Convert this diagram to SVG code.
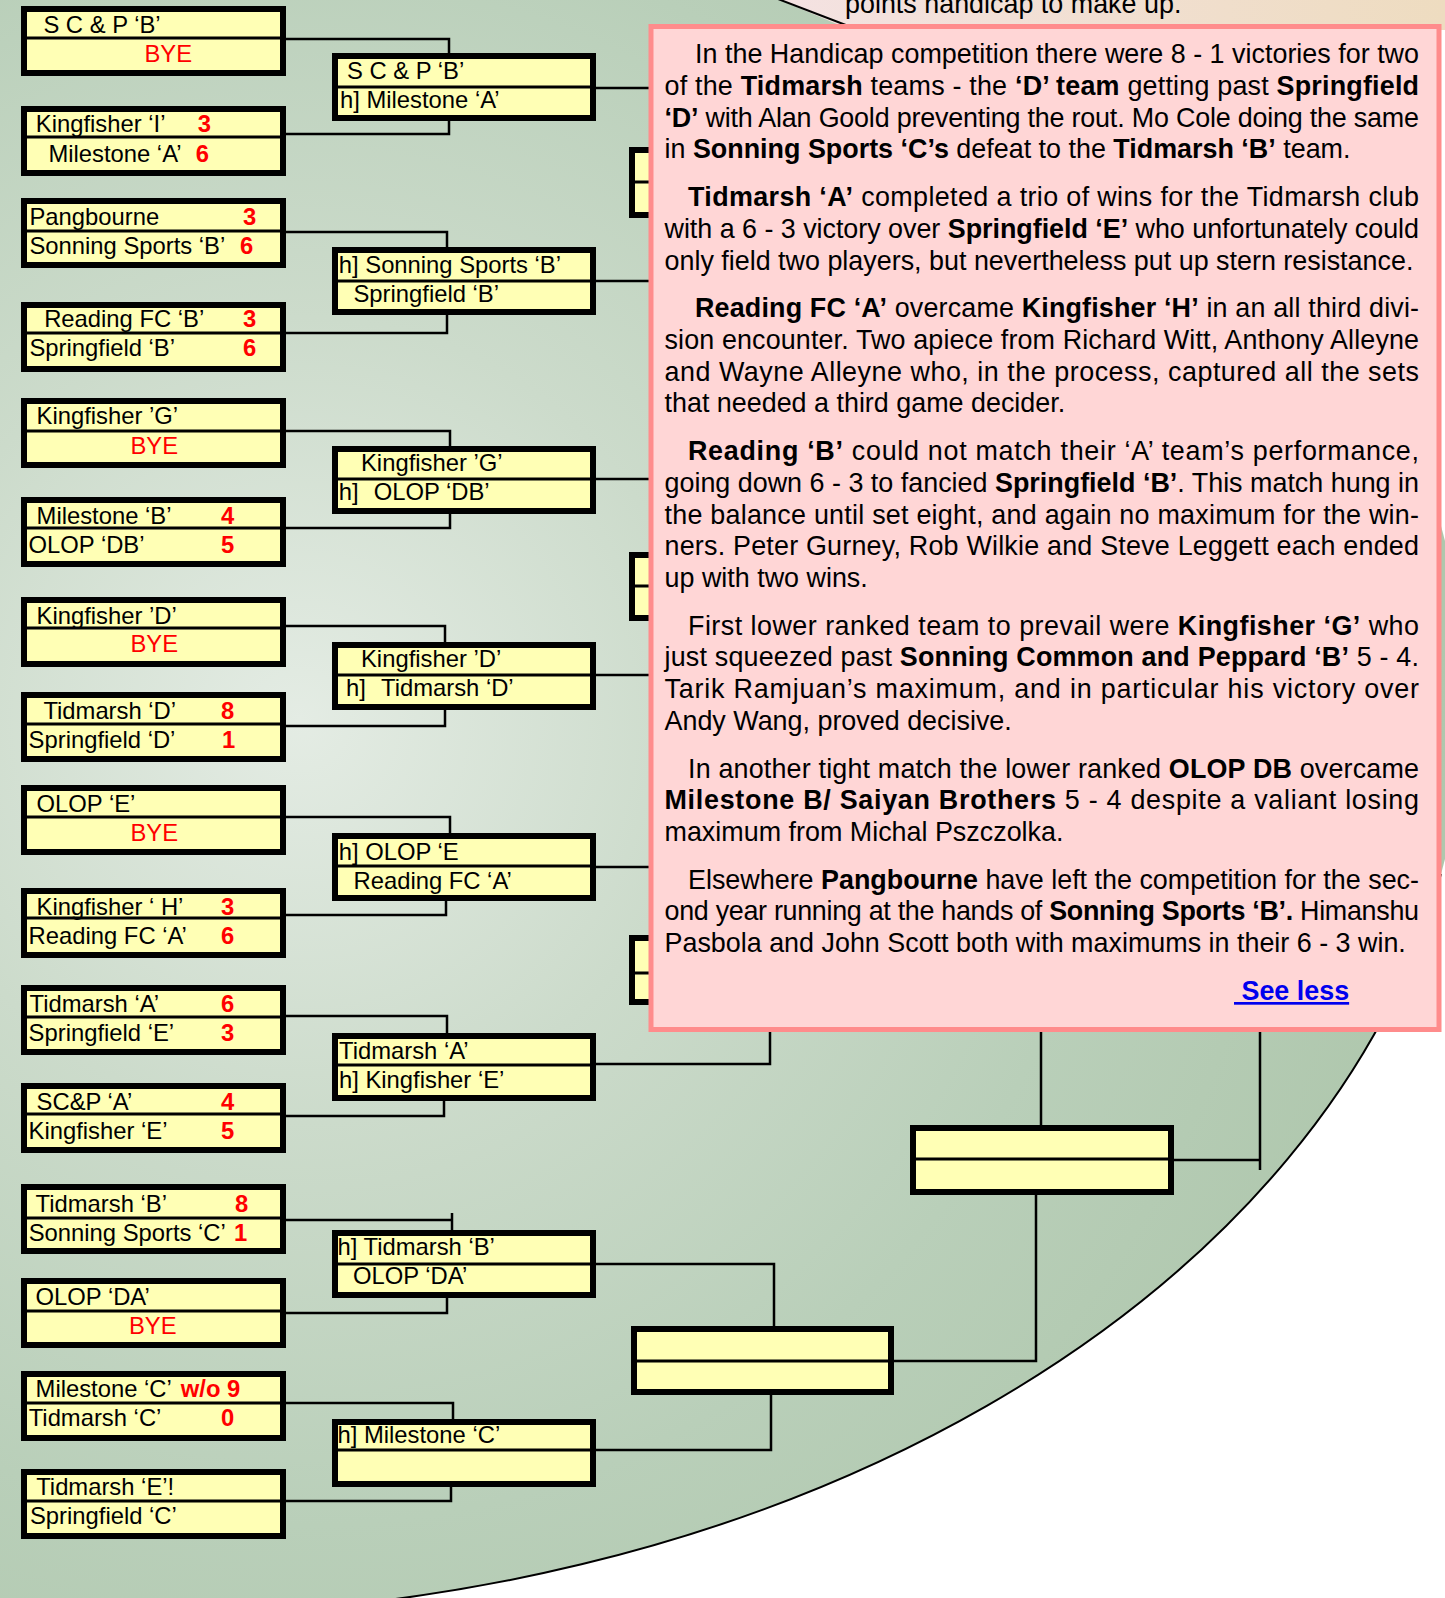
<svg xmlns="http://www.w3.org/2000/svg" width="1445" height="1598" viewBox="0 0 1445 1598">
<defs>
<radialGradient id="bg" gradientUnits="userSpaceOnUse" cx="300" cy="720" r="1150">
<stop offset="0" stop-color="#E4ECE4"/>
<stop offset="0.35" stop-color="#CCDBCB"/>
<stop offset="0.7" stop-color="#B9CFB9"/>
<stop offset="1" stop-color="#AFC7AD"/>
</radialGradient>
<linearGradient id="co" gradientUnits="userSpaceOnUse" x1="780" y1="0" x2="1445" y2="0">
<stop offset="0" stop-color="#F4E2E2"/>
<stop offset="1" stop-color="#EEDCC0"/>
</linearGradient>
<style>
.box{fill:#FFFFB5;stroke:#000;stroke-width:6}
.div{stroke:#000;stroke-width:3}
.nm{font-family:"Liberation Sans",Arial,sans-serif;font-size:23.8px;fill:#000}
.bye{font-family:"Liberation Sans",Arial,sans-serif;font-size:23.8px;fill:#FF0000}
.sc{font-family:"Liberation Sans",Arial,sans-serif;font-size:23.8px;font-weight:bold;fill:#FF0000}
.con{fill:none;stroke:#000;stroke-width:2.5}
.t{font-family:"Liberation Sans",Arial,sans-serif;font-size:26.9px;fill:#000}
.b{font-weight:bold}
</style>
</defs>
<rect width="1445" height="1598" fill="#FFFFFF"/>
<ellipse cx="150" cy="700" rx="1315" ry="915" fill="url(#bg)"/>
<path d="M1441,874 A1315,915 0 0 1 150,1615" fill="none" stroke="#000" stroke-width="2"/>
<g id="callout">
<polygon points="780,0 1445,0 1445,30 851,30" fill="url(#co)"/>
<line x1="778" y1="-1" x2="851" y2="27" stroke="#000" stroke-width="2"/>
<text class="t" x="845" y="12.5">points handicap to make up.</text>
</g>
<g id="connectors">
<path class="con" d="M286,39 H449 V56 M286,134 H449 V118"/>
<path class="con" d="M286,232 H447 V250 M286,333 H447 V312"/>
<path class="con" d="M286,431 H450 V449 M286,528 H450 V511"/>
<path class="con" d="M286,626 H445 V645 M286,726 H445 V707"/>
<path class="con" d="M286,817 H450 V836 M286,915 H446 V898"/>
<path class="con" d="M286,1016 H447 V1036 M286,1116 H444 V1098"/>
<path class="con" d="M286,1220 H452 M452,1213 V1233 M286,1313 H447 V1295"/>
<path class="con" d="M286,1403 H453 V1422 M286,1501 H451 V1484"/>
<path class="con" d="M596,88 H655 M596,281 H655 M596,479 H655 M596,675 H655 M596,867 H655"/>
<path class="con" d="M596,1064 H770 V1025"/>
<path class="con" d="M596,1264 H774 V1329 M596,1450 H771 V1392"/>
<path class="con" d="M1041,1025 V1128 M894,1361 H1036 V1192"/>
<path class="con" d="M1174,1160 H1260 M1260,1170 V1025"/>
</g>
<g id="r1-1"><rect class="box" x="24" y="9" width="259" height="64"/><line class="div" x1="24" x2="283" y1="38" y2="38"/><text class="nm" x="43.4" y="32.5">S C &amp; P ‘B’</text><text class="bye" x="144.4" y="61.5">BYE</text></g>
<g id="r1-2"><rect class="box" x="24" y="109" width="259" height="64"/><line class="div" x1="24" x2="283" y1="137" y2="137"/><text class="nm" x="35.8" y="132">Kingfisher ‘I’</text><text class="sc" x="197.8" y="132">3</text><text class="nm" x="48.4" y="161.5">Milestone ‘A’</text><text class="sc" x="195.7" y="161.5">6</text></g>
<g id="r1-3"><rect class="box" x="24" y="201" width="259" height="64"/><line class="div" x1="24" x2="283" y1="231" y2="231"/><text class="nm" x="29.5" y="225">Pangbourne</text><text class="sc" x="243" y="225">3</text><text class="nm" x="29.5" y="254">Sonning Sports ‘B’</text><text class="sc" x="240" y="254">6</text></g>
<g id="r1-4"><rect class="box" x="24" y="305" width="259" height="64"/><line class="div" x1="24" x2="283" y1="333" y2="333"/><text class="nm" x="44.2" y="327">Reading FC ‘B’</text><text class="sc" x="243" y="327">3</text><text class="nm" x="29.5" y="356">Springfield ‘B’</text><text class="sc" x="243" y="356">6</text></g>
<g id="r1-5"><rect class="box" x="24" y="401" width="259" height="64"/><line class="div" x1="24" x2="283" y1="431" y2="431"/><text class="nm" x="36.6" y="424">Kingfisher ’G’</text><text class="bye" x="130.5" y="453.5">BYE</text></g>
<g id="r1-6"><rect class="box" x="24" y="500" width="259" height="64"/><line class="div" x1="24" x2="283" y1="528" y2="528"/><text class="nm" x="36.6" y="523.5">Milestone ‘B’</text><text class="sc" x="221" y="523.5">4</text><text class="nm" x="28.6" y="552.5">OLOP ‘DB’</text><text class="sc" x="221" y="552.5">5</text></g>
<g id="r1-7"><rect class="box" x="24" y="600" width="259" height="64"/><line class="div" x1="24" x2="283" y1="628" y2="628"/><text class="nm" x="36.6" y="623.5">Kingfisher ’D’</text><text class="bye" x="130.5" y="652">BYE</text></g>
<g id="r1-8"><rect class="box" x="24" y="695" width="259" height="64"/><line class="div" x1="24" x2="283" y1="724" y2="724"/><text class="nm" x="43.4" y="718.5">Tidmarsh ‘D’</text><text class="sc" x="221" y="718.5">8</text><text class="nm" x="28.6" y="747.5">Springfield ‘D’</text><text class="sc" x="222" y="747.5">1</text></g>
<g id="r1-9"><rect class="box" x="24" y="788" width="259" height="64"/><line class="div" x1="24" x2="283" y1="817" y2="817"/><text class="nm" x="36.6" y="812">OLOP ‘E’</text><text class="bye" x="130.5" y="841">BYE</text></g>
<g id="r1-10"><rect class="box" x="24" y="891" width="259" height="64"/><line class="div" x1="24" x2="283" y1="918" y2="918"/><text class="nm" x="36.6" y="915">Kingfisher ‘ H’</text><text class="sc" x="221" y="915">3</text><text class="nm" x="28.6" y="944">Reading FC ‘A’</text><text class="sc" x="221" y="944">6</text></g>
<g id="r1-11"><rect class="box" x="24" y="988" width="259" height="64"/><line class="div" x1="24" x2="283" y1="1017" y2="1017"/><text class="nm" x="29.5" y="1012">Tidmarsh ‘A’</text><text class="sc" x="221" y="1012">6</text><text class="nm" x="28.6" y="1040.5">Springfield ‘E’</text><text class="sc" x="221" y="1040.5">3</text></g>
<g id="r1-12"><rect class="box" x="24" y="1086" width="259" height="64"/><line class="div" x1="24" x2="283" y1="1114" y2="1114"/><text class="nm" x="36.6" y="1109.5">SC&amp;P ‘A’</text><text class="sc" x="221" y="1109.5">4</text><text class="nm" x="28.6" y="1138.5">Kingfisher ‘E’</text><text class="sc" x="221" y="1138.5">5</text></g>
<g id="r1-13"><rect class="box" x="24" y="1187" width="259" height="64"/><line class="div" x1="24" x2="283" y1="1218" y2="1218"/><text class="nm" x="35.6" y="1212">Tidmarsh ‘B’</text><text class="sc" x="235" y="1212">8</text><text class="nm" x="28.7" y="1240.5">Sonning Sports ‘C’</text><text class="sc" x="234" y="1240.5">1</text></g>
<g id="r1-14"><rect class="box" x="24" y="1281" width="259" height="64"/><line class="div" x1="24" x2="283" y1="1311" y2="1311"/><text class="nm" x="35.6" y="1305">OLOP ‘DA’</text><text class="bye" x="129" y="1334">BYE</text></g>
<g id="r1-15"><rect class="box" x="24" y="1374" width="259" height="64"/><line class="div" x1="24" x2="283" y1="1403" y2="1403"/><text class="nm" x="35.6" y="1397">Milestone ‘C’</text><text class="sc" x="180.8" y="1397">w/o 9</text><text class="nm" x="28.7" y="1426">Tidmarsh ‘C’</text><text class="sc" x="221" y="1426">0</text></g>
<g id="r1-16"><rect class="box" x="24" y="1472" width="259" height="64"/><line class="div" x1="24" x2="283" y1="1501" y2="1501"/><text class="nm" x="36.2" y="1495">Tidmarsh ‘E’!</text><text class="nm" x="30" y="1524">Springfield ‘C’</text></g>
<g id="r2-1"><rect class="box" x="335" y="56" width="258" height="62"/><line class="div" x1="335" x2="593" y1="87" y2="87"/><text class="nm" x="347" y="78.5">S C &amp; P ‘B’</text><text class="nm" x="340" y="107.5">h] Milestone ‘A’</text></g>
<g id="r2-2"><rect class="box" x="335" y="250" width="258" height="62"/><line class="div" x1="335" x2="593" y1="281" y2="281"/><text class="nm" x="338.8" y="273">h] Sonning Sports ‘B’</text><text class="nm" x="353.5" y="302">Springfield ‘B’</text></g>
<g id="r2-3"><rect class="box" x="335" y="449" width="258" height="62"/><line class="div" x1="335" x2="593" y1="479" y2="479"/><text class="nm" x="361" y="470.5">Kingfisher ’G’</text><text class="nm" x="338.8" y="499.5">h]<tspan x="373.7">OLOP ‘DB’</tspan></text></g>
<g id="r2-4"><rect class="box" x="335" y="645" width="258" height="62"/><line class="div" x1="335" x2="593" y1="675" y2="675"/><text class="nm" x="361" y="666.5">Kingfisher ’D’</text><text class="nm" x="346" y="695.5">h]<tspan x="381">Tidmarsh ‘D’</tspan></text></g>
<g id="r2-5"><rect class="box" x="335" y="836" width="258" height="62"/><line class="div" x1="335" x2="593" y1="866" y2="866"/><text class="nm" x="338.8" y="859.5">h] OLOP ‘E</text><text class="nm" x="353.5" y="888.5">Reading FC ‘A’</text></g>
<g id="r2-6"><rect class="box" x="335" y="1036" width="258" height="62"/><line class="div" x1="335" x2="593" y1="1065" y2="1065"/><text class="nm" x="339" y="1059">Tidmarsh ‘A’</text><text class="nm" x="339" y="1088">h] Kingfisher ‘E’</text></g>
<g id="r2-7"><rect class="box" x="335" y="1233" width="258" height="62"/><line class="div" x1="335" x2="593" y1="1264" y2="1264"/><text class="nm" x="337.5" y="1255">h] Tidmarsh ‘B’</text><text class="nm" x="353" y="1284">OLOP ‘DA’</text></g>
<g id="r2-8"><rect class="box" x="335" y="1422" width="258" height="62"/><line class="div" x1="335" x2="593" y1="1450" y2="1450"/><text class="nm" x="337.5" y="1443">h] Milestone ‘C’</text></g>
<g id="r3-1"><rect class="box" x="632" y="150" width="258" height="65"/><line class="div" x1="632" x2="890" y1="182" y2="182"/></g>
<g id="r3-2"><rect class="box" x="632" y="555" width="258" height="63"/><line class="div" x1="632" x2="890" y1="586" y2="586"/></g>
<g id="r3-3"><rect class="box" x="632" y="938" width="258" height="64"/><line class="div" x1="632" x2="890" y1="973" y2="973"/></g>
<g id="r3-4"><rect class="box" x="634" y="1329" width="257" height="63"/><line class="div" x1="634" x2="891" y1="1361" y2="1361"/></g>
<g id="r4-1"><rect class="box" x="913" y="1128" width="258" height="64"/><line class="div" x1="913" x2="1171" y1="1159" y2="1159"/></g>
<g id="report">
<rect x="651" y="26.5" width="788" height="1003" fill="#FFD6D6" stroke="#FF8C8C" stroke-width="5"/>
<text class="t" x="695" y="63" textLength="724" lengthAdjust="spacing">In the Handicap competition there were 8 - 1 victories for two</text>
<text class="t" x="664.5" y="94.8" textLength="754.5" lengthAdjust="spacing">of the <tspan class="b">Tidmarsh</tspan> teams - the <tspan class="b">‘D’ team</tspan> getting past <tspan class="b">Springfield</tspan></text>
<text class="t" x="664.5" y="126.6" textLength="754.5" lengthAdjust="spacing"><tspan class="b">‘D’</tspan> with Alan Goold preventing the rout. Mo Cole doing the same</text>
<text class="t" x="664.5" y="158.4">in <tspan class="b">Sonning Sports ‘C’s</tspan> defeat to the <tspan class="b">Tidmarsh ‘B’</tspan> team.</text>
<text class="t" x="688" y="205.9" textLength="731" lengthAdjust="spacing"><tspan class="b">Tidmarsh ‘A’</tspan> completed a trio of wins for the Tidmarsh club</text>
<text class="t" x="664.5" y="237.7" textLength="754.5" lengthAdjust="spacing">with a 6 - 3 victory over <tspan class="b">Springfield ‘E’</tspan> who unfortunately could</text>
<text class="t" x="664.5" y="269.5">only field two players, but nevertheless put up stern resistance.</text>
<text class="t" x="695" y="317" textLength="724" lengthAdjust="spacing"><tspan class="b">Reading FC ‘A’</tspan> overcame <tspan class="b">Kingfisher ‘H’</tspan> in an all third divi-</text>
<text class="t" x="664.5" y="348.8" textLength="754.5" lengthAdjust="spacing">sion encounter. Two apiece from Richard Witt, Anthony Alleyne</text>
<text class="t" x="664.5" y="380.6" textLength="754.5" lengthAdjust="spacing">and Wayne Alleyne who, in the process, captured all the sets</text>
<text class="t" x="664.5" y="412.4">that needed a third game decider.</text>
<text class="t" x="688" y="459.9" textLength="731" lengthAdjust="spacing"><tspan class="b">Reading ‘B’</tspan> could not match their ‘A’ team’s performance,</text>
<text class="t" x="664.5" y="491.7" textLength="754.5" lengthAdjust="spacing">going down 6 - 3 to fancied <tspan class="b">Springfield ‘B’</tspan>. This match hung in</text>
<text class="t" x="664.5" y="523.5" textLength="754.5" lengthAdjust="spacing">the balance until set eight, and again no maximum for the win-</text>
<text class="t" x="664.5" y="555.3" textLength="754.5" lengthAdjust="spacing">ners. Peter Gurney, Rob Wilkie and Steve Leggett each ended</text>
<text class="t" x="664.5" y="587.1">up with two wins.</text>
<text class="t" x="688" y="634.6" textLength="731" lengthAdjust="spacing">First lower ranked team to prevail were <tspan class="b">Kingfisher ‘G’</tspan> who</text>
<text class="t" x="664.5" y="666.4" textLength="754.5" lengthAdjust="spacing">just squeezed past <tspan class="b">Sonning Common and Peppard ‘B’</tspan> 5 - 4.</text>
<text class="t" x="664.5" y="698.2" textLength="754.5" lengthAdjust="spacing">Tarik Ramjuan’s maximum, and in particular his victory over</text>
<text class="t" x="664.5" y="730">Andy Wang, proved decisive.</text>
<text class="t" x="688" y="777.5" textLength="731" lengthAdjust="spacing">In another tight match the lower ranked <tspan class="b">OLOP DB</tspan> overcame</text>
<text class="t" x="664.5" y="809.3" textLength="754.5" lengthAdjust="spacing"><tspan class="b">Milestone B/ Saiyan Brothers</tspan> 5 - 4 despite a valiant losing</text>
<text class="t" x="664.5" y="841.1">maximum from Michal Pszczolka.</text>
<text class="t" x="688" y="888.6" textLength="731" lengthAdjust="spacing">Elsewhere <tspan class="b">Pangbourne</tspan> have left the competition for the sec-</text>
<text class="t" x="664.5" y="920.4" textLength="754.5" lengthAdjust="spacing">ond year running at the hands of <tspan class="b">Sonning Sports ‘B’.</tspan> Himanshu</text>
<text class="t" x="664.5" y="952.2">Pasbola and John Scott both with maximums in their 6 - 3 win.</text>
<text class="t b" x="1234" y="1000" fill="#0000EE" style="fill:#0000EE;text-decoration:underline">&#160;See less</text>
</g>
</svg>
